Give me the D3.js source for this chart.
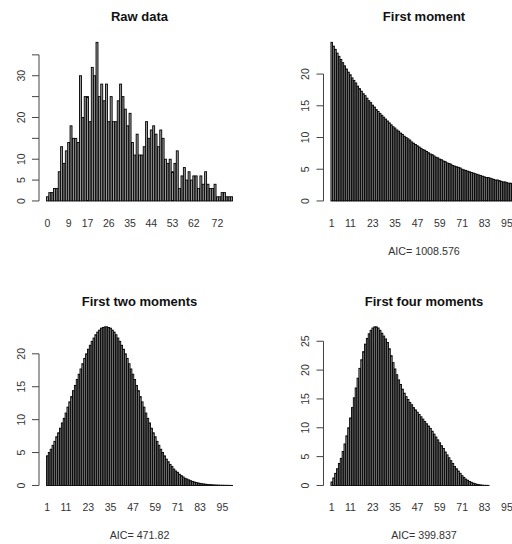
<!DOCTYPE html>
<html>
<head>
<meta charset="utf-8">
<script src="https://cdn.jsdelivr.net/npm/d3@7"></script>
<style>
  body { margin: 0; background: #fff; }
  svg { display: block; font-family: "Liberation Sans", Arial, sans-serif; }
</style>
</head>
<body>
<svg id="chart" width="512" height="544"></svg>
<script>
// counts per value 0..78
const rawCounts = [1,2,2,3,3,7,13,9,12,14, 18,15,15,14,30,20,25,25,19,32,
  30,38,25,28,24,28,19,25,19,19, 24,28,25,22,18,21,14,11,16,11,
  11,13,19,15,17,18,16,13,17,15, 10,9,10,7,9,12,3,6,8,5,
  7,5,6,6,3,6,4,7,4,3, 3,4,1,1,2,2,1,1,1];

// fitted frequencies for 1..100
const firstMoment = [25.0,24.4,23.9,23.3,22.8,22.3,21.8,21.3,20.8,20.3,
  19.9,19.4,19.0,18.6,18.1,17.7,17.3,16.9,16.6,16.2,
  15.8,15.5,15.1,14.8,14.4,14.1,13.8,13.5,13.2,12.9,
  12.6,12.3,12.0,11.7,11.5,11.2,11.0,10.7,10.5,10.2,
  10.0,9.8,9.6,9.3,9.1,8.9,8.7,8.5,8.3,8.1,
  8.0,7.8,7.6,7.4,7.3,7.1,6.9,6.8,6.6,6.5,
  6.3,6.2,6.0,5.9,5.8,5.6,5.5,5.4,5.3,5.2,
  5.0,4.9,4.8,4.7,4.6,4.5,4.4,4.3,4.2,4.1,
  4.0,3.9,3.8,3.7,3.7,3.6,3.5,3.4,3.3,3.3,
  3.2,3.1,3.0,3.0,2.9,2.8,2.8,2.7,2.6,2.6];

const twoMoments = [4.5,5.0,5.5,6.1,6.7,7.4,8.0,8.7,9.5,10.2,
  11.0,11.9,12.7,13.5,14.4,15.2,16.1,16.9,17.7,18.5,
  19.3,20.0,20.7,21.3,21.9,22.4,22.9,23.3,23.6,23.9,
  24.0,24.1,24.1,24.0,23.9,23.6,23.3,22.9,22.4,21.9,
  21.3,20.7,20.0,19.3,18.5,17.7,16.9,16.1,15.2,14.4,
  13.5,12.7,11.9,11.0,10.2,9.5,8.7,8.0,7.4,6.7,
  6.1,5.5,5.0,4.5,4.0,3.6,3.2,2.9,2.5,2.2,
  2.0,1.7,1.5,1.3,1.1,0.98,0.85,0.73,0.62,0.53,
  0.45,0.38,0.32,0.27,0.23,0.19,0.16,0.13,0.11,0.09,
  0.07,0.06,0.05,0.04,0.03,0.03,0.02,0.02,0.01,0.01];

const fourMoments = [0.6,1.3,2.1,2.9,3.8,4.7,5.9,7.2,8.6,10.0,
  11.7,13.5,15.2,16.9,18.6,20.3,21.8,23.2,24.5,25.5,
  26.3,26.9,27.3,27.5,27.5,27.3,26.9,26.4,25.9,25.4,
  24.8,23.7,22.5,21.3,20.2,19.2,18.3,17.5,16.7,16.0,
  15.4,14.9,14.4,14.0,13.5,13.1,12.7,12.3,11.9,11.5,
  11.1,10.7,10.3,9.9,9.4,8.9,8.4,7.9,7.4,6.9,
  6.4,5.8,5.3,4.8,4.3,3.8,3.3,2.9,2.5,2.1,
  1.7,1.4,1.1,0.9,0.7,0.55,0.4,0.3,0.2,0.14,
  0.09,0.05,0.03,0.02,0.01,0,0,0,0,0,
  0,0,0,0,0,0,0,0,0,0];

// shown bar names (R drops the overlapping ones)
const rawLabels = [0, 9, 17, 26, 35, 44, 53, 62, 72];
const fitLabels = [1, 11, 23, 35, 47, 59, 71, 83, 95];

const panels = [
  { title: 'Raw data', values: rawCounts, start: 0, labels: rawLabels,
    yTicks: [0,5,10,15,20,25,30,35], yLabels: [0,5,10,20,30], aic: null },
  { title: 'First moment', values: firstMoment, start: 1, labels: fitLabels,
    yTicks: [0,5,10,15,20], yLabels: [0,5,10,15,20], aic: 'AIC= 1008.576' },
  { title: 'First two moments', values: twoMoments, start: 1, labels: fitLabels,
    yTicks: [0,5,10,15,20], yLabels: [0,5,10,15,20], aic: 'AIC= 471.82' },
  { title: 'First four moments', values: fourMoments, start: 1, labels: fitLabels,
    yTicks: [0,5,10,15,20,25], yLabels: [0,5,10,15,20,25], aic: 'AIC= 399.837' }
];

const svg = d3.select('#chart');
const cell = 284.5;
const plot = { left: 39, right: 240, top: 36, bottom: 207.3 };

panels.forEach((p, idx) => {
  const g = svg.append('g')
    .attr('transform', `translate(${(idx % 2) * cell},${Math.floor(idx / 2) * cell})`);

  const n = p.values.length;
  // barplot geometry: width 1, space 0.2, axes extended by 4%
  const xmin = 0.2, xmax = 1.2 * n;
  const xext = 0.04 * (xmax - xmin);
  const x = d3.scaleLinear()
    .domain([xmin - xext, xmax + xext])
    .range([plot.left, plot.right]);

  const ymax = d3.max(p.values);
  const y = d3.scaleLinear()
    .domain([-0.04 * ymax, 1.04 * ymax])
    .range([plot.bottom, plot.top]);

  const names = d3.range(p.start, p.start + n);
  const barLeft = i => 0.2 + 1.2 * i;

  g.append('g')
    .selectAll('rect')
    .data(p.values)
    .join('rect')
    .attr('x', (d, i) => x(barLeft(i)))
    .attr('width', x(1) - x(0))
    .attr('y', d => y(d))
    .attr('height', d => y(0) - y(d))
    .attr('fill', '#9c9c9c')
    .attr('stroke', '#000')
    .attr('stroke-width', 0.9);

  // y axis
  const yAxis = g.append('g').attr('stroke', '#444');
  yAxis.append('line')
    .attr('x1', plot.left).attr('x2', plot.left)
    .attr('y1', y(d3.min(p.yTicks))).attr('y2', y(d3.max(p.yTicks)));
  yAxis.selectAll('line.tick')
    .data(p.yTicks)
    .join('line')
    .attr('class', 'tick')
    .attr('x1', plot.left - 7).attr('x2', plot.left)
    .attr('y1', d => y(d)).attr('y2', d => y(d));

  g.append('g')
    .selectAll('text')
    .data(p.yLabels)
    .join('text')
    .attr('transform', d => `translate(24.5,${y(d)}) rotate(-90)`)
    .attr('text-anchor', 'middle')
    .attr('font-size', 10.5)
    .attr('fill', '#333')
    .text(d => d);

  // bar names
  g.append('g')
    .selectAll('text')
    .data(p.labels)
    .join('text')
    .attr('x', d => x(barLeft(names.indexOf(d)) + 0.5))
    .attr('y', 226.5)
    .attr('text-anchor', 'middle')
    .attr('font-size', 10.5)
    .attr('fill', '#333')
    .text(d => d);

  g.append('text')
    .attr('x', (plot.left + plot.right) / 2)
    .attr('y', 21)
    .attr('text-anchor', 'middle')
    .attr('font-size', 13)
    .attr('font-weight', 'bold')
    .attr('fill', '#111')
    .text(p.title);

  if (p.aic) {
    g.append('text')
      .attr('x', (plot.left + plot.right) / 2)
      .attr('y', 254.5)
      .attr('text-anchor', 'middle')
      .attr('font-size', 10.7)
      .attr('fill', '#333')
      .text(p.aic);
  }
});
</script>
</body>
</html>
